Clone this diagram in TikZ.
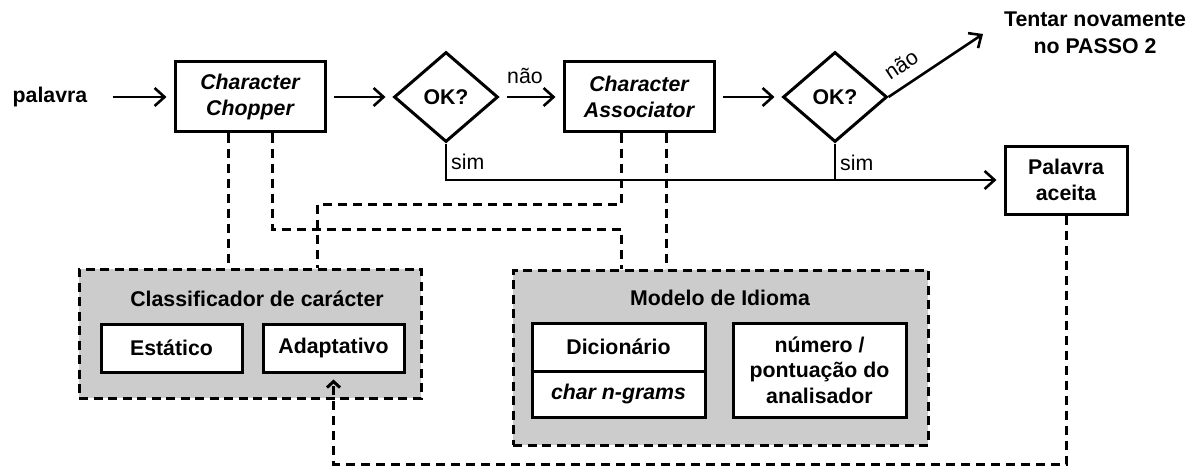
\documentclass[tikz,border=0pt]{standalone}
\usepackage{fontspec}
\setmainfont{Liberation Sans}
\usetikzlibrary{shapes.geometric,arrows.meta,calc}
\begin{document}
\begin{tikzpicture}[x=1pt,y=-1pt,
  every node/.style={font=\fontsize{21.3}{25.5}\selectfont\bfseries, align=center, inner sep=0pt},
  ital/.style={font=\fontsize{21.3}{25.5}\selectfont\bfseries\itshape},
  lbl/.style={font=\fontsize{21.3}{25.5}\selectfont\mdseries},
  box/.style={draw, line width=3pt, fill=white},
  cond/.style={draw, diamond, line width=3pt, minimum width=104pt, minimum height=90pt},
  group/.style={draw, line width=3pt, dash pattern=on 9pt off 5.5pt, fill=gray!40},
  flow/.style={line width=2.6pt, -{Straight Barb[length=10pt,width=18pt]}, shorten <=7.5pt, shorten >=7pt},
  link/.style={line width=3pt, dash pattern=on 9pt off 6pt}
]
\fill[white] (0,0) rectangle (1204,468);
\useasboundingbox (0,0) rectangle (1204,468);

% main flow
\node (palavra) at (50,97) {palavra};
\node[box, ital, minimum width=150pt, minimum height=70pt] (chop) at (250,97) {Character\\Chopper};
\node[cond] (ok1) at (446,97) {OK?};
\node[box, ital, minimum width=150pt, minimum height=70pt] (assoc) at (639,97) {Character\\Associator};
\node[cond] (ok2) at (835,97) {OK?};
\node (retry) at (1095,33) {Tentar novamente\\[1.5pt]no PASSO 2};
\coordinate (retryin) at (983,34);
\node[box, minimum width=122pt, minimum height=68pt] (aceita) at (1066,180) {Palavra\\aceita};

% component groups
\node[group, minimum width=342pt, minimum height=129pt] (cls) at (250,333.5) {};
\node (clstitle) at (257,299) {Classificador de carácter};
\node[box, minimum width=141pt, minimum height=48pt] (estat) at (171.5,348) {Estático};
\node[box, minimum width=141pt, minimum height=48pt] (adapt) at (333.5,348) {Adaptativo};

\node[group, minimum width=415pt, minimum height=175pt] (lm) at (720.5,357.5) {};
\node (lmtitle) at (720,298) {Modelo de Idioma};
\node[box, minimum width=173pt, minimum height=48pt] (dic) at (618.5,347) {Dicionário};
\node[box, ital, minimum width=173pt, minimum height=46pt] (ngram) at (618.5,394) {char n-grams};
\node[box, minimum width=173pt, minimum height=94pt] (num) at (819.5,370) {número /\\pontuação do\\analisador};

% solid connectors
\draw[flow, shorten <=25pt] (palavra.east) -- (chop.west);
\draw[flow] (chop.east) -- (ok1.west);
\draw[flow] (ok1.east) -- (assoc.west) node[lbl, midway, above=12pt, xshift=-6pt] {não};
\draw[flow] (assoc.east) -- (ok2.west);
\draw[line width=2.6pt, -{Straight Barb[length=10pt,width=18pt]}] (ok2.east) -- (retryin)
  node[lbl, pos=0.25, above=11pt, sloped] {não};
\draw[flow, shorten <=0pt] (ok1.south) |- (aceita.west);
\draw[line width=2.6pt] (ok2.south) -- (ok2.south |- aceita.west);
\node[lbl, anchor=west] (sim1) at (451,162) {sim};
\node[lbl, anchor=west] (sim2) at (840,163) {sim};

% dashed links
\coordinate (jA) at (621,229);
\coordinate (jB) at (317,204);
\coordinate (fb) at (333.5,464);
\draw[link] ([xshift=-22pt]chop.south) -- ([xshift=-22pt]chop.south |- cls.north);
\draw[link] ([xshift=22pt]chop.south) |- (jA) -- (jA |- lm.north);
\draw[link] ([xshift=-18pt]assoc.south) |- (jB) -- (jB |- cls.north);
\draw[link] ([xshift=27pt]assoc.south) -- ([xshift=27pt]assoc.south |- lm.north);
\draw[link, -{Straight Barb[length=6pt,width=13pt]}, shorten >=6pt] (aceita.south) |- (fb) -- (adapt.south);
\end{tikzpicture}
\end{document}
